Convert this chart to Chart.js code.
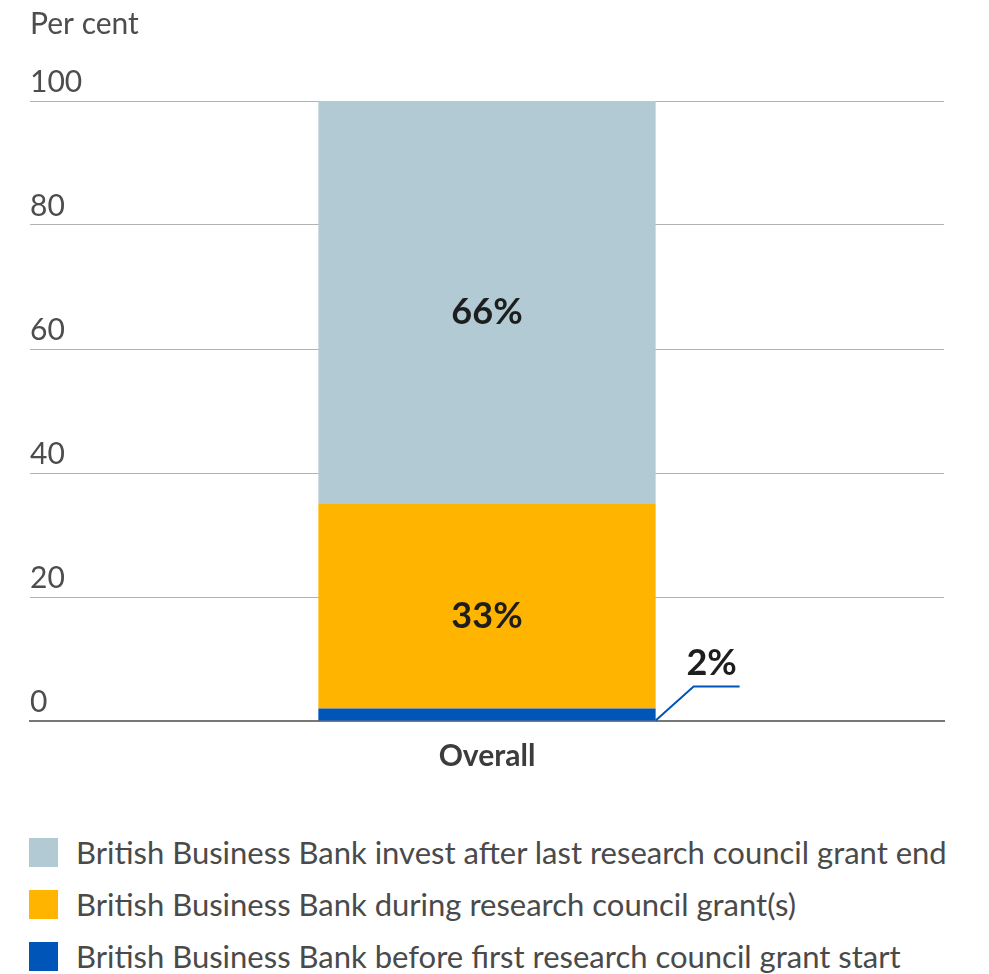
<!DOCTYPE html>
<html>
<head>
<meta charset="utf-8">
<script src="https://cdn.jsdelivr.net/npm/chart.js@4/dist/chart.umd.min.js"></script>
<style>
  body { margin: 0; background: #fff; font-family: Lato, "Liberation Sans", sans-serif; }
  .wrap { position: relative; width: 989px; height: 974px; }
  canvas { position: absolute; left: 0; top: 0; }
  .legend { position: absolute; left: 29px; top: 826px; }
  .legend-row { display: flex; align-items: center; height: 52px; }
  .legend-box { width: 29px; height: 29px; margin-right: 18px; flex: none; }
  .legend-text { font-size: 31px; color: #4a4a4a; white-space: nowrap; }
</style>
</head>
<body>
<div class="wrap">
  <canvas id="chart" width="989" height="783"></canvas>
  <div class="legend" id="legend"></div>
</div>
<script>
const CATEGORIES = ['Overall'];

// stacked from the bottom up
const BEFORE_FIRST_GRANT = [2];
const DURING_GRANT = [33];
const AFTER_LAST_GRANT = [66];

const SERIES_NAMES = [
  'British Business Bank before first research council grant start',
  'British Business Bank during research council grant(s)',
  'British Business Bank invest after last research council grant end'
];

const Y_TICKS = [0, 20, 40, 60, 80, 100];

const BLUE = '#0055b9';
const ORANGE = '#ffb400';
const LIGHT_BLUE = '#b1cad4';

const FONT = 'Lato, "Liberation Sans", sans-serif';

// y tick labels sit on top of each grid line, left aligned
const tickLabelPlugin = {
  id: 'tickLabels',
  afterDraw(chart) {
    const ctx = chart.ctx;
    const yScale = chart.scales.y;
    ctx.save();
    ctx.font = '30px ' + FONT;
    ctx.fillStyle = '#4d4d4d';
    ctx.textAlign = 'left';
    ctx.textBaseline = 'alphabetic';
    Y_TICKS.forEach(v => {
      ctx.fillText(String(v), chart.chartArea.left, yScale.getPixelForValue(v) - 9);
    });
    ctx.restore();
  }
};

// percentage labels in the bars, the small one gets a leader line
const barLabelPlugin = {
  id: 'barLabels',
  afterDatasetsDraw(chart) {
    const ctx = chart.ctx;
    const area = chart.chartArea;
    ctx.save();
    ctx.font = 'bold 36px ' + FONT;
    ctx.fillStyle = '#1e1e1e';
    ctx.textAlign = 'center';
    ctx.textBaseline = 'middle';
    chart.data.datasets.forEach((ds, i) => {
      const bar = chart.getDatasetMeta(i).data[0];
      const value = ds.data[0];
      const text = value + '%';
      const top = Math.max(bar.y, area.top);
      if (value < 5) {
        const right = bar.x + bar.width / 2;
        ctx.strokeStyle = BLUE;
        ctx.lineWidth = 2;
        ctx.beginPath();
        ctx.moveTo(right, bar.base);
        ctx.lineTo(right + 38, bar.base - 34);
        ctx.lineTo(right + 84, bar.base - 34);
        ctx.stroke();
        ctx.fillText(text, right + 56, bar.base - 57);
      } else {
        ctx.fillText(text, bar.x, (top + bar.base) / 2 + 10);
      }
    });
    ctx.restore();
  }
};

const datasets = [
  { label: SERIES_NAMES[0], data: BEFORE_FIRST_GRANT, backgroundColor: BLUE },
  { label: SERIES_NAMES[1], data: DURING_GRANT, backgroundColor: ORANGE },
  { label: SERIES_NAMES[2], data: AFTER_LAST_GRANT, backgroundColor: LIGHT_BLUE }
];

const chart = new Chart(document.getElementById('chart'), {
  type: 'bar',
  data: { labels: CATEGORIES, datasets },
  options: {
    responsive: false,
    animation: false,
    layout: { padding: { left: 30, right: 45, top: 0, bottom: 0 } },
    datasets: { bar: { barPercentage: 0.369, categoryPercentage: 1 } },
    plugins: {
      legend: { display: false },
      tooltip: { enabled: false },
      title: {
        display: true,
        text: 'Per cent',
        align: 'start',
        color: '#4d4d4d',
        font: { family: FONT, size: 30, weight: 'normal' },
        padding: { top: 6, bottom: 59 }
      }
    },
    scales: {
      x: {
        stacked: true,
        grid: { display: false },
        border: { display: true, color: '#777', width: 2 },
        ticks: {
          color: '#3c3c3c',
          padding: 9,
          font: { family: FONT, size: 30, weight: 'bold' }
        }
      },
      y: {
        stacked: true,
        min: 0,
        max: 100,
        afterBuildTicks: axis => { axis.ticks = Y_TICKS.map(v => ({ value: v })); },
        ticks: { display: false },
        border: { display: false },
        grid: { drawTicks: false, color: '#b3b3b3', lineWidth: 1 }
      }
    }
  },
  plugins: [tickLabelPlugin, barLabelPlugin]
});

// legend, top entry is the top of the stack
const legend = document.getElementById('legend');
datasets.slice().reverse().forEach(ds => {
  const row = document.createElement('div');
  row.className = 'legend-row';
  const box = document.createElement('span');
  box.className = 'legend-box';
  box.style.background = ds.backgroundColor;
  const text = document.createElement('span');
  text.className = 'legend-text';
  text.textContent = ds.label;
  row.appendChild(box);
  row.appendChild(text);
  legend.appendChild(row);
});
</script>
</body>
</html>
